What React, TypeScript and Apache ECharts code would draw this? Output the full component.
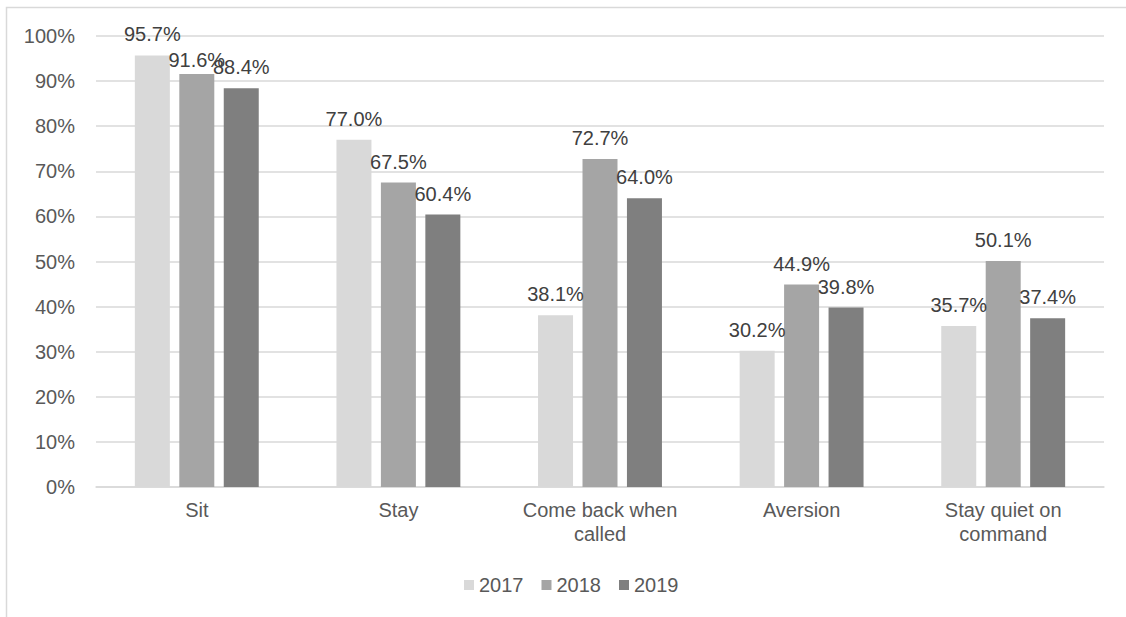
import React, { useEffect, useRef } from "react";
import * as echarts from "echarts";

const categories = ["Sit", "Stay", "Come back when called", "Aversion", "Stay quiet on command"];
const categoryLabels = ["Sit", "Stay", "Come back when\ncalled", "Aversion", "Stay quiet on\ncommand"];
const years = ["2017", "2018", "2019"];
const values2017 = [95.7, 77.0, 38.1, 30.2, 35.7];
const values2018 = [91.6, 67.5, 72.7, 44.9, 50.1];
const values2019 = [88.4, 60.4, 64.0, 39.8, 37.4];
const colors = ["#d9d9d9", "#a5a5a5", "#7f7f7f"];

const FONT = "'Liberation Sans', Arial, Helvetica, sans-serif";

export default function App() {
  const ref = useRef<HTMLDivElement>(null);
  useEffect(() => {
    if (!ref.current) return;
    const chart = echarts.init(ref.current, null, { renderer: "svg" });
    const seriesData = [values2017, values2018, values2019];
    chart.setOption({
      animation: false,
      backgroundColor: "#ffffff",
      textStyle: { fontFamily: FONT },
      graphic: [
        {
          type: "rect",
          shape: { x: 6.5, y: 7.5, width: 1130, height: 620 },
          style: { fill: "none", stroke: "#d9d9d9", lineWidth: 1.5 },
          silent: true,
        },
      ],
      legend: {
        data: years,
        left: 459,
        top: 570,
        itemWidth: 10,
        itemHeight: 10,
        itemGap: 18,
        icon: "rect",
        textStyle: { fontSize: 20, color: "#595959", fontFamily: FONT },
      },
      grid: { left: 96, right: 22, top: 36, bottom: 130, containLabel: false },
      xAxis: {
        type: "category",
        data: categories,
        axisTick: { show: false },
        axisLine: { lineStyle: { color: "#d9d9d9", width: 1.5 } },
        axisLabel: {
          fontSize: 20,
          color: "#595959",
          lineHeight: 24,
          margin: 11,
          interval: 0,
          fontFamily: FONT,
          formatter: (v: string) => categoryLabels[categories.indexOf(v)] ?? v,
        },
      },
      yAxis: {
        type: "value",
        min: 0,
        max: 100,
        interval: 10,
        axisLine: { show: false },
        axisTick: { show: false },
        splitLine: { lineStyle: { color: "#d9d9d9", width: 1.5 } },
        axisLabel: {
          fontSize: 20,
          color: "#595959",
          margin: 21,
          fontFamily: FONT,
          formatter: "{value}%",
        },
      },
      series: years.map((y, i) => ({
        name: y,
        type: "bar",
        data: seriesData[i].map((v, j) =>
          i === 1 && j === 0 ? { value: v, label: { distance: 4 } } : v
        ),
        barWidth: 35,
        barGap: "27%",
        itemStyle: { color: colors[i] },
        label: {
          show: true,
          position: "top",
          distance: 11,
          fontSize: 20,
          color: "#404040",
          fontFamily: FONT,
          formatter: (p: any) => Number(p.value).toFixed(1) + "%",
        },
      })),
    });
    return () => chart.dispose();
  }, []);
  return (
    <div
      ref={ref}
      style={{ position: "absolute", left: 0, top: 0, width: 1126, height: 617 }}
    />
  );
}
